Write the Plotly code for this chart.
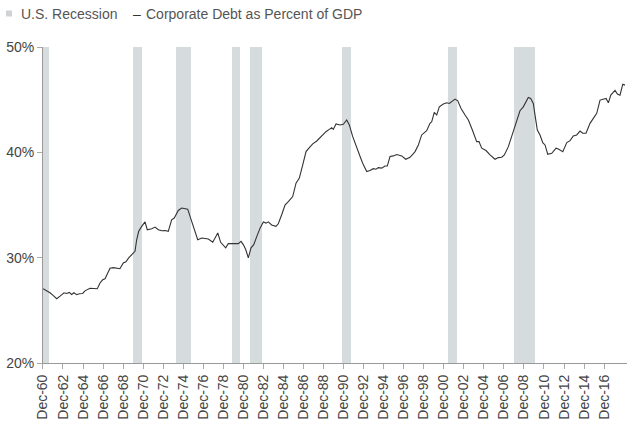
import plotly.graph_objects as go
from datetime import datetime

# ---------------- data ----------------
debt_years = [
    1960.92, 1961.62, 1961.95, 1962.29, 1962.62, 1963.02, 1963.28, 1963.54, 1963.78, 1964.01,
    1964.28, 1964.54, 1964.88, 1965.11, 1965.61, 1965.94, 1966.34, 1966.61, 1966.88, 1967.11,
    1967.38, 1967.61, 1967.94, 1968.28, 1968.60, 1968.93, 1969.20, 1969.47, 1969.87, 1970.10,
    1970.27, 1970.47, 1970.77, 1971.10, 1971.33, 1971.77, 1972.10, 1972.43, 1972.77, 1973.10,
    1973.42, 1973.76, 1974.02, 1974.42, 1974.76, 1975.36, 1975.76, 1976.09, 1976.36, 1976.76,
    1977.09, 1977.42, 1977.86, 1978.09, 1978.36, 1978.65, 1978.91, 1979.15, 1979.41, 1980.41,
    1980.68, 1980.91, 1981.15, 1981.41, 1981.68, 1981.95, 1982.25, 1982.58, 1982.91, 1983.18,
    1983.40, 1983.74, 1984.17, 1984.40, 1984.74, 1985.07, 1985.40, 1985.84, 1986.17, 1986.50,
    1986.84, 1987.17, 1987.50, 1987.84, 1988.24, 1988.56, 1988.89, 1989.16, 1989.49, 1989.73,
    1989.89, 1990.16, 1990.56, 1990.89, 1991.23, 1991.49, 1991.83, 1992.23, 1992.63, 1992.89,
    1993.23, 1993.55, 1993.88, 1994.15, 1994.38, 1994.72, 1995.05, 1995.28, 1995.55, 1995.88,
    1996.22, 1996.72, 1997.12, 1997.55, 1998.05, 1998.38, 1998.71, 1999.21, 1999.54, 1999.71,
    1999.97, 2000.21, 2000.47, 2000.87, 2001.21, 2001.47, 2001.71, 2002.04, 2002.31, 2002.64,
    2003.04, 2003.37, 2003.77, 2004.20, 2004.43, 2004.70, 2005.13, 2005.53, 2006.03, 2006.36,
    2006.70, 2006.96, 2007.36, 2007.86, 2008.20, 2008.52, 2008.85, 2009.12, 2009.35, 2009.59,
    2009.85, 2010.02, 2010.25, 2010.52, 2010.79, 2011.02, 2011.29, 2011.69, 2012.12, 2012.35,
    2012.79, 2013.19, 2013.52, 2013.84, 2014.18, 2014.51, 2014.78, 2015.11, 2015.51, 2015.84,
    2016.18, 2016.51, 2016.84, 2017.11, 2017.34, 2017.58, 2018.01, 2018.24, 2018.50, 2018.78,
    2019.00,
]
debt_pct = [
    27.05, 26.67, 26.40, 26.10, 26.35, 26.67, 26.60, 26.70, 26.50, 26.67,
    26.48, 26.57, 26.60, 26.85, 27.10, 27.10, 27.05, 27.60, 27.90, 28.00,
    28.50, 29.00, 29.05, 29.00, 28.95, 29.50, 29.60, 29.98, 30.40, 30.60,
    31.70, 32.50, 32.97, 33.40, 32.65, 32.75, 32.90, 32.65, 32.55, 32.58,
    32.50, 33.60, 33.76, 34.48, 34.71, 34.61, 33.44, 32.50, 31.71, 31.87,
    31.80, 31.77, 31.46, 31.87, 32.34, 31.46, 31.15, 30.93, 31.33, 31.33,
    31.55, 31.24, 30.77, 29.98, 30.93, 31.24, 32.00, 32.80, 33.38, 33.28,
    33.40, 33.10, 32.97, 33.22, 34.07, 35.00, 35.33, 35.80, 37.07, 37.55,
    38.80, 40.07, 40.45, 40.80, 41.08, 41.40, 41.65, 41.96, 42.18, 42.33,
    42.18, 42.70, 42.60, 42.66, 43.07, 42.60, 41.49, 40.39, 39.44, 38.81,
    38.17, 38.27, 38.45, 38.40, 38.55, 38.50, 38.70, 38.70, 39.60, 39.66,
    39.79, 39.66, 39.34, 39.53, 40.07, 40.70, 41.65, 42.06, 42.75, 42.90,
    43.79, 43.54, 44.32, 44.58, 44.70, 44.64, 44.80, 45.05, 44.89, 44.17,
    43.54, 43.07, 42.12, 41.02, 41.02, 40.39, 40.17, 39.75, 39.34, 39.50,
    39.53, 39.75, 40.54, 41.96, 42.90, 43.95, 44.32, 44.89, 45.21, 45.12,
    44.64, 43.54, 42.12, 41.65, 40.92, 40.70, 39.82, 39.91, 40.39, 40.32,
    40.07, 40.92, 41.11, 41.55, 41.65, 42.02, 41.81, 41.81, 42.75, 43.22,
    43.70, 44.96, 45.02, 45.12, 44.70, 45.43, 45.87, 45.53, 45.43, 46.47,
    46.38,
]

recession_start = [1960.92, 1969.90, 1974.22, 1979.75, 1981.56, 1990.73, 2001.37, 2007.97]
recession_end = [1961.56, 1970.77, 1975.69, 1980.58, 1982.74, 1991.64, 2002.28, 2009.97]

tick_years = [1960, 1962, 1964, 1966, 1968, 1970, 1972, 1974, 1976, 1978,
              1980, 1982, 1984, 1986, 1988, 1990, 1992, 1994, 1996, 1998,
              2000, 2002, 2004, 2006, 2008, 2010, 2012, 2014, 2016]
tick_labels = ["Dec-60", "Dec-62", "Dec-64", "Dec-66", "Dec-68", "Dec-70", "Dec-72",
               "Dec-74", "Dec-76", "Dec-78", "Dec-80", "Dec-82", "Dec-84", "Dec-86",
               "Dec-88", "Dec-90", "Dec-92", "Dec-94", "Dec-96", "Dec-98", "Dec-00",
               "Dec-02", "Dec-04", "Dec-06", "Dec-08", "Dec-10", "Dec-12", "Dec-14",
               "Dec-16"]
y_ticks = [20, 30, 40, 50]
y_tick_labels = ["20%", "30%", "40%", "50%"]

x_start, x_end = 1960.92, 2019.2

# ---------------- helpers ----------------
def to_dt(y):
    yr = int(y)
    a, b = datetime(yr, 1, 1), datetime(yr + 1, 1, 1)
    return a + (b - a) * (y - yr)

W, H = 633, 429
ML, MR, MT, MB = 43, 6, 47, 66
PW, PH = W - ML - MR, H - MT - MB

def px_x(p):  # page pixel -> paper coordinate
    return (p - ML) / PW

def px_y(p):
    return (H - MB - p) / PH

# ---------------- figure ----------------
fig = go.Figure()

rec_mid = [to_dt((s + e) / 2) for s, e in zip(recession_start, recession_end)]
rec_w = [(to_dt(e) - to_dt(s)).total_seconds() * 1000 for s, e in zip(recession_start, recession_end)]
fig.add_trace(go.Bar(
    x=rec_mid, y=[30] * len(rec_mid), base=[20] * len(rec_mid), width=rec_w,
    marker=dict(color="#d6dbde", line=dict(width=0)),
    name="U.S. Recession", showlegend=False, hoverinfo="skip",
))

fig.add_trace(go.Scatter(
    x=[to_dt(y) for y in debt_years], y=debt_pct, mode="lines",
    line=dict(color="#333333", width=1.1),
    name="Corporate Debt as Percent of GDP", showlegend=False,
))

font = "Liberation Sans, Arial, sans-serif"

fig.update_layout(
    width=W, height=H,
    margin=dict(l=ML, r=MR, t=MT, b=MB, autoexpand=False),
    paper_bgcolor="white", plot_bgcolor="white",
    font=dict(family=font, size=14, color="#444444"),
    bargap=0,
    xaxis=dict(
        type="date", range=[to_dt(x_start), to_dt(x_end)],
        tickvals=[datetime(y, 12, 1) for y in tick_years], ticktext=tick_labels,
        tickangle=-90, ticks="outside", ticklen=5, tickcolor="#aaaaaa",
        showline=True, linecolor="#999999", linewidth=1,
        showgrid=False, zeroline=False,
        tickfont=dict(family=font, size=14, color="#444444"),
    ),
    yaxis=dict(
        range=[20, 50], tickvals=y_ticks, ticktext=y_tick_labels,
        ticks="outside", ticklen=5, tickcolor="#aaaaaa",
        showline=True, linecolor="#999999", linewidth=1,
        showgrid=False, zeroline=False,
        tickfont=dict(family=font, size=14, color="#444444"),
    ),
    showlegend=False,
)

# legend drawn as real text
fig.add_shape(type="rect", xref="paper", yref="paper",
              x0=px_x(6), x1=px_x(12), y0=px_y(16.5), y1=px_y(10.5),
              fillcolor="#cfd3d6", line=dict(width=0))
fig.add_annotation(text="U.S. Recession", xref="paper", yref="paper",
                   x=px_x(19), y=px_y(13.5), xanchor="left", yanchor="middle",
                   showarrow=False, font=dict(family=font, size=14, color="#555555"))
fig.add_annotation(text="–", xref="paper", yref="paper",
                   x=px_x(131), y=px_y(13.5), xanchor="left", yanchor="middle",
                   showarrow=False, font=dict(family=font, size=14, color="#333333"))
fig.add_annotation(text="Corporate Debt as Percent of GDP", xref="paper", yref="paper",
                   x=px_x(144), y=px_y(13.5), xanchor="left", yanchor="middle",
                   showarrow=False, font=dict(family=font, size=14, color="#555555"))

# remove the browser's default 8px body margin so the figure fills the window
fig.write_html("out.html", config={"displayModeBar": False},
               post_script="document.body.style.margin='0px';")
